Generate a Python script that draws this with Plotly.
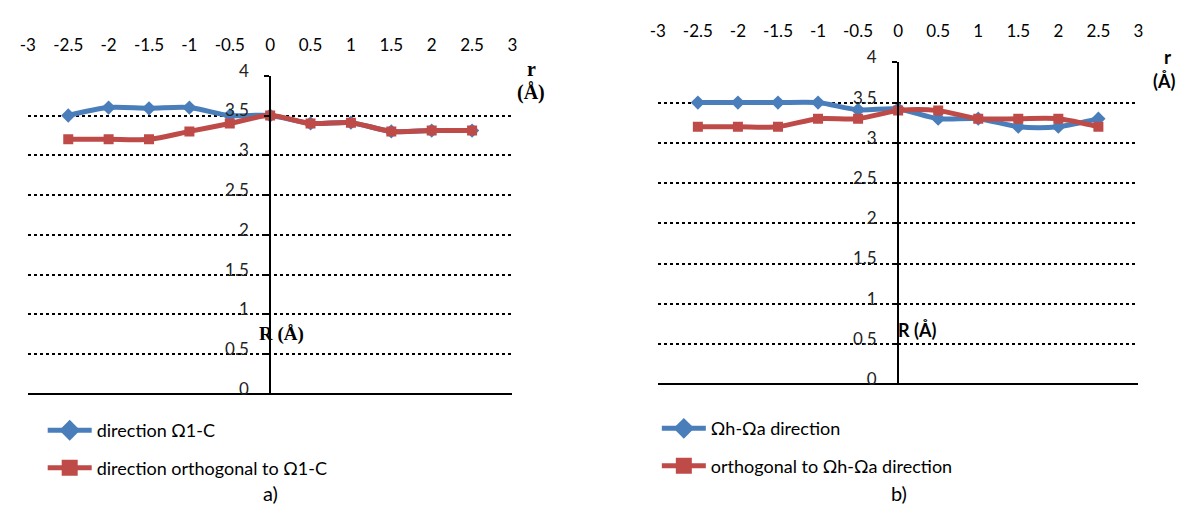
import plotly.graph_objects as go

# ---------------- data ----------------
r_vals = [-2.5, -2, -1.5, -1, -0.5, 0, 0.5, 1, 1.5, 2, 2.5]

a_dir = [3.5, 3.6, 3.59, 3.6, 3.5, 3.5, 3.4, 3.41, 3.3, 3.31, 3.31]
a_orth = [3.2, 3.2, 3.2, 3.3, 3.4, 3.5, 3.4, 3.41, 3.3, 3.31, 3.31]

b_dir = [3.5, 3.5, 3.5, 3.5, 3.41, 3.42, 3.3, 3.3, 3.2, 3.2, 3.3]
b_orth = [3.2, 3.2, 3.2, 3.3, 3.3, 3.4, 3.4, 3.3, 3.3, 3.3, 3.2]

x_tickvals = [-3, -2.5, -2, -1.5, -1, -0.5, 0, 0.5, 1, 1.5, 2, 2.5, 3]
x_ticktext = ["-3", "-2.5", "-2", "-1.5", "-1", "-0.5", "0", "0.5", "1", "1.5", "2", "2.5", "3"]
y_tickvals = [0, 0.5, 1, 1.5, 2, 2.5, 3, 3.5, 4]
y_ticktext = ["0", "0.5", "1", "1.5", "2", "2.5", "3", "3.5", "4"]

names_a = ["direction Ω1-C", "direction orthogonal to Ω1-C"]
names_b = ["Ωh-Ωa direction", "orthogonal to Ωh-Ωa direction"]

BLUE = "#4A7EBB"
RED = "#BE4B48"
PAGE_W, PAGE_H = 1191, 518
BODY = 8                      # default body margin of the html page
W, H = PAGE_W - 2 * BODY, PAGE_H - 2 * BODY
FONT = "Lato"

fig = go.Figure()

def add_pair(xa, ya, dir_vals, orth_vals, names, legend):
    specs = [(dir_vals, names[0], BLUE, "diamond", 11, 18),
             (orth_vals, names[1], RED, "square", 10, 16)]
    for vals, nm, col, sym, ms, lms in specs:
        fig.add_trace(go.Scatter(
            x=r_vals, y=vals, name=nm, mode="lines+markers",
            line=dict(color=col, width=5, shape="spline", smoothing=0.8),
            marker=dict(symbol=sym, size=ms, color=col),
            xaxis=xa, yaxis=ya, showlegend=False, legendgroup=legend + nm))
        # legend entry (larger symbol, like the reference legend)
        fig.add_trace(go.Scatter(
            x=[None], y=[None], name=nm, mode="lines+markers",
            line=dict(color=col, width=5),
            marker=dict(symbol=sym, size=lms, color=col),
            xaxis=xa, yaxis=ya, legend=legend, legendgroup=legend + nm))

add_pair("x", "y", a_dir, a_orth, names_a, "legend")
add_pair("x2", "y2", b_dir, b_orth, names_b, "legend2")

# page-pixel -> paper fraction
def px_x(p):
    return (p - BODY) / W

def px_y(p):
    return 1 - (p - BODY) / H

xaxis_common = dict(
    range=[-3, 3], tickvals=x_tickvals, ticktext=x_ticktext, side="top",
    showgrid=False, zeroline=False, showline=False, ticks="",
    tickfont=dict(family=FONT, size=17, color="black"),
)
yaxis_common = dict(
    range=[0, 4], tickvals=y_tickvals, ticktext=y_ticktext,
    showgrid=True, gridcolor="black", gridwidth=2, griddash="dot",
    zeroline=True, zerolinecolor="black", zerolinewidth=1.5,
    showline=True, linecolor="black", linewidth=2,
    ticks="outside", ticklen=5, tickcolor="black", tickwidth=1.5,
    tickfont=dict(family=FONT, size=17, color="#222"),
    ticklabelshift=-5, ticklabelstandoff=12, anchor="free",
)

legend_common = dict(
    xanchor="left", yanchor="top",
    font=dict(family=FONT, size=18, color="black"),
    bgcolor="rgba(0,0,0,0)", tracegroupgap=11, itemwidth=44,
)

fig.update_layout(
    width=W, height=H, margin=dict(l=0, r=0, t=0, b=0),
    paper_bgcolor="white", plot_bgcolor="white",
    xaxis=dict(domain=[px_x(20), px_x(510)], anchor="y", ticklabelstandoff=20, **xaxis_common),
    yaxis=dict(domain=[px_y(394), px_y(62)], position=px_x(265), **yaxis_common),
    xaxis2=dict(domain=[px_x(657), px_x(1143)], anchor="y2", ticklabelstandoff=21, **xaxis_common),
    yaxis2=dict(domain=[px_y(384), px_y(48)], position=px_x(900), **yaxis_common),
    legend=dict(x=px_x(35), y=px_y(413), **legend_common),
    legend2=dict(x=px_x(656), y=px_y(411), **legend_common),
    showlegend=True,
)

ann = [
    dict(text="<b>r</b>", x=px_x(529), y=px_y(55), font=dict(family="Liberation Serif", size=20)),
    dict(text="<b>(Å)</b>", x=px_x(529), y=px_y(80), font=dict(family="Liberation Serif", size=20)),
    dict(text="<b>R (Å)</b>", x=px_x(276), y=px_y(332), font=dict(family="Liberation Serif", size=19)),
    dict(text="<b>r</b>", x=px_x(1173), y=px_y(42), font=dict(family=FONT, size=19)),
    dict(text="<b>(Å)</b>", x=px_x(1182), y=px_y(67), xanchor="right", font=dict(family=FONT, size=18)),
    dict(text="<b>R (Å)</b>", x=px_x(919), y=px_y(327), font=dict(family=FONT, size=18)),
    dict(text="a)", x=px_x(265), y=px_y(497), font=dict(family=FONT, size=20)),
    dict(text="b)", x=px_x(901), y=px_y(497), font=dict(family=FONT, size=20)),
]
for a in ann:
    a.setdefault("xanchor", "center")
    a.update(xref="paper", yref="paper", showarrow=False, yanchor="middle")
    a["font"]["color"] = "black"
    fig.add_annotation(**a)

fig.write_html("out.html", config={"displayModeBar": False})
